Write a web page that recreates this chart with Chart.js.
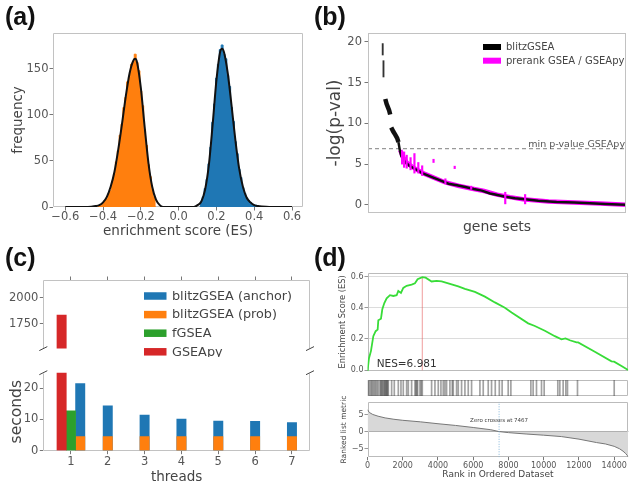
<!DOCTYPE html>
<html>
<head>
<meta charset="utf-8">
<script src="https://cdn.jsdelivr.net/npm/chart.js@4.4.1/dist/chart.umd.min.js"></script>
<style>
  body { margin: 0; background: #fff; }
  #wrap { position: relative; width: 633px; height: 490px; overflow: hidden; background: #fff; }
  canvas { position: absolute; }
  .lab { position: absolute; font: bold 25px 'Liberation Sans', Arial, sans-serif; color: #111; line-height: 25px; }
  .box { position: absolute; box-sizing: border-box; border: 1px solid #c2c2c2; pointer-events: none; z-index: 5; }
</style>
</head>
<body>
<div id="wrap">
  <canvas id="chartA" width="312" height="245" style="left:0;top:0"></canvas>
  <canvas id="chartB" width="313" height="240" style="left:320px;top:0"></canvas>
  <canvas id="chartCTop" width="318" height="117" style="left:0;top:240px"></canvas>
  <canvas id="chartCBot" width="318" height="133" style="left:0;top:357px"></canvas>
  <canvas id="chartDEs" width="313" height="115" style="left:320px;top:262px"></canvas>
  <canvas id="chartDHits" width="313" height="18" style="left:320px;top:379px"></canvas>
  <canvas id="chartDRank" width="313" height="94" style="left:320px;top:396px"></canvas>
  <div class="box" id="boxB"></div>
  <div class="lab" style="left:5px;top:4px">(a)</div>
  <div class="lab" style="left:314px;top:4px">(b)</div>
  <div class="lab" style="left:5px;top:245px">(c)</div>
  <div class="lab" style="left:314px;top:245px">(d)</div>
</div>
<script>
// ---------- (a) enrichment score distributions ----------
const esTicks   = [-0.6, -0.4, -0.2, 0, 0.2, 0.4, 0.6];
const freqTicks = [0, 50, 100, 150];
const negBinX   = [-0.43,-0.42,-0.41,-0.40,-0.39,-0.38,-0.37,-0.36,-0.35,-0.34,-0.33,-0.32,-0.31,-0.30,-0.29,-0.28,
                   -0.27,-0.26,-0.25,-0.24,-0.23,-0.22,-0.21,-0.20,-0.19,-0.18,-0.17,-0.16,-0.15,-0.14,-0.13,-0.12];
const negCounts = [0,1,2,4,7,9,14,18,28,36,49,61,78,90,108,119,136,142,155,158,166,157,148,126,110,84,67,46,33,19,11,0];
const posBinX   = [0.11,0.12,0.13,0.14,0.15,0.16,0.17,0.18,0.19,0.20,0.21,0.22,0.23,0.24,0.25,0.26,0.27,
                   0.28,0.29,0.30,0.31,0.32,0.33,0.34,0.35,0.36,0.37,0.38,0.39,0.40,0.41,0.42,0.43];
const posCounts = [0,5,11,20,30,47,65,92,112,140,155,171,176,166,161,143,131,108,93,71,58,41,32,21,15,10,7,5,3,2,2,1,0];
const kdeX = [-0.60,-0.48,-0.44,-0.42,-0.40,-0.38,-0.36,-0.34,-0.32,-0.30,-0.28,-0.26,-0.24,-0.23,-0.22,-0.20,-0.18,
              -0.16,-0.14,-0.12,-0.10,-0.08,0.08,0.10,0.12,0.14,0.16,0.18,0.20,0.22,0.23,0.24,0.26,0.28,0.30,0.32,
              0.34,0.36,0.38,0.40,0.42,0.44,0.48,0.60];
const kdeY = [0,0,1,2,5,11,22,38,62,90,120,145,159,161,157,129,87,48,22,8,2,0,0,2,6,19,46,90,138,169,172,168,145,110,
              73,42,22,10,5,2,1,0.5,0,0];

// ---------- (b) p-values per gene set ----------
const pTicks       = [0, 5, 10, 15, 20];
const minPvalue    = 6.9;
const dashX        = [5.7, 6.0];
const dashLow      = [18.4, 15.7];
const dashHigh     = [19.8, 17.7];
const clusterX     = [6.7, 7.2, 7.7, 8.2, 8.6, 8.8, 9.0, 9.8, 10.6, 11.3, 11.8];
const clusterY     = [13.0, 12.4, 12.0, 11.6, 11.1, null, 9.5, 9.0, 8.6, 8.2, 7.7];
const blitzX       = [11.8, 12.4, 12.9, 14.4, 16, 18.3, 21, 24.8, 28, 31.2, 34.5, 37.7, 41, 44.1, 47.3, 49.3, 53.2,
                      57, 60.9, 66, 73.1, 80, 86, 92, 97, 100];
const blitzY       = [7.7, 6.6, 6.0, 5.25, 4.8, 4.4, 3.9, 3.4, 3.0, 2.6, 2.4, 2.2, 1.95, 1.75, 1.4, 1.27, 1.0,
                      0.82, 0.68, 0.5, 0.35, 0.28, 0.2, 0.12, 0.05, 0];
const prerankX     = [12.5, 13.5, 15, 17, 19, 22, 25, 30, 35, 40, 45, 50, 55, 60, 70, 80, 90, 100];
const prerankY     = [6.7, 5.9, 5.2, 4.7, 4.3, 3.8, 3.4, 2.75, 2.35, 2.0, 1.7, 1.25, 0.95, 0.7, 0.4, 0.28, 0.17, 0.02];
const spikeX       = [13.2, 14.0, 15.0, 16.5, 18.0, 19.5, 21.0, 25.4, 30.0, 33.6, 40.0, 53.2, 60.9];
const spikeLow     = [5.0, 4.6, 4.5, 4.3, 3.9, 3.9, 3.6, 5.2, 2.6, 4.45, 1.9, 0.12, 0.12];
const spikeHigh    = [6.6, 6.5, 6.1, 5.8, 6.3, 5.2, 4.8, 5.6, 3.2, 4.75, 2.3, 1.55, 1.27];

// ---------- (c) runtime per thread ----------
const threads      = [1, 2, 3, 4, 5, 6, 7];
const anchorSec    = [21.5, 14.4, 11.4, 10.1, 9.5, 9.4, 9.0];
const probSec      = [4.5, 4.5, 4.5, 4.5, 4.5, 4.5, 4.5];
const fgseaSec     = [12.8, null, null, null, null, null, null];
const gseapySec    = [1834, null, null, null, null, null, null];
const secTicksHigh = [1750, 2000];
const secTicksLow  = [0, 10, 20];
const legendC      = ['blitzGSEA (anchor)', 'blitzGSEA (prob)', 'fGSEA', 'GSEApy'];

// ---------- (d) running enrichment score ----------
const rankTicks  = [0, 2000, 4000, 6000, 8000, 10000, 12000, 14000];
const esYTicks   = [0, 0.2, 0.4, 0.6];
const metricTicks = [-5, 0, 5];
const esRank  = [0, 10, 85, 198, 330, 463, 576, 614, 765, 840, 955, 1087, 1276, 1465, 1654, 1748, 1899, 2031, 2220,
                 2504, 2693, 2844, 3109, 3299, 3638, 3921, 4205, 4583, 5150, 5528, 6095, 6663, 7229, 7796, 8176, 9118,
                 9497, 10064, 10631, 11009, 11236, 11482, 11860, 11955, 12900, 13846, 13994, 14413, 14787];
const esScore = [0, 0.006, 0.077, 0.124, 0.218, 0.25, 0.26, 0.32, 0.33, 0.39, 0.43, 0.46, 0.48, 0.475, 0.48, 0.507,
                 0.495, 0.527, 0.54, 0.548, 0.556, 0.582, 0.596, 0.592, 0.568, 0.572, 0.568, 0.556, 0.536, 0.521,
                 0.501, 0.471, 0.434, 0.40, 0.37, 0.30, 0.283, 0.253, 0.218, 0.198, 0.204, 0.192, 0.178, 0.178,
                 0.118, 0.057, 0.055, 0.027, 0.002];
const esPeakRank = 3109;
const esPeak     = 0.596;
const nes        = 6.981;
const hitRanks = [47, 120, 198, 260, 330, 400, 463, 540, 614, 709, 760, 803, 850, 898, 955, 990, 1031, 1070, 1106,
                  1140, 1181, 1370, 1521, 1748, 1899, 2031, 2220, 2315, 2504, 2693, 2744, 2800, 2844, 2977, 3050,
                  3109, 3638, 3827, 4016, 4167, 4299, 4394, 4488, 4677, 4810, 4866, 5055, 5150, 5339, 5528, 5717,
                  5906, 6379, 6568, 6851, 7040, 7250, 7480, 7640, 7985, 8136, 9270, 9400, 9590, 9875, 10026, 10800,
                  10914, 11103, 11255, 11349, 11916, 14000];
const metricRank = [0, 100, 300, 600, 1000, 1500, 2000, 3000, 4000, 5000, 6000, 7000, 7467, 8000, 9000, 10000,
                    11000, 12000, 13000, 13500, 14000, 14300, 14500, 14650, 14750, 14790];
const metricVal  = [6.4, 5.6, 5.0, 4.5, 4.0, 3.6, 3.3, 2.85, 2.3, 1.8, 1.2, 0.55, 0, -0.3, -0.7, -1.05, -1.45,
                    -2.2, -3.2, -3.6, -4.3, -5.0, -5.7, -6.4, -7.0, -7.4];
const zeroCross  = 7467;

// ---------- helpers ----------
Chart.defaults.font.family = "'DejaVu Sans', sans-serif";
Chart.defaults.color = '#555';
Chart.defaults.animation = false;

const fixedTicks = vals => scale => { scale.ticks = vals.map(v => ({ value: v })); };
const fixW  = w => scale => { scale.width = w; };
const fixH  = h => scale => { scale.height = h; };
const minus = s => String(s).replace('-', '\u2212');
const plain = v => minus(String(v));
const pts   = (xs, ys) => xs.map((x, i) => ({ x, y: ys[i] }));
const noPlugins = { legend: { display: false }, tooltip: { enabled: false } };

// light grey box round the plot area (matplotlib style spines), drawn before the marks
const framePlugin = {
  id: 'frame',
  beforeDatasetsDraw(chart, args, o) {
    const ctx = chart.ctx;
    const xs = chart.scales.x, ys = chart.scales.y;
    const sides = o.sides || 'tlrb';
    const l = Math.round(xs.left) + 0.5, r = Math.round(xs.right) - 0.5;
    const t = Math.round(ys.top) + 0.5, b = Math.round(ys.bottom) - 0.5;
    ctx.save();
    ctx.setLineDash([]);
    ctx.strokeStyle = o.color || '#c2c2c2';
    ctx.lineWidth = 1;
    ctx.beginPath();
    if (sides.includes('t')) { ctx.moveTo(l, t); ctx.lineTo(r, t); }
    if (sides.includes('b')) { ctx.moveTo(l, b); ctx.lineTo(r, b); }
    if (sides.includes('l')) { ctx.moveTo(l, t); ctx.lineTo(l, b); }
    if (sides.includes('r')) { ctx.moveTo(r, t); ctx.lineTo(r, b); }
    ctx.stroke();
    // diagonal marks of a broken axis
    if (o.breakAt) {
      const y = o.breakAt === 'top' ? ys.top : ys.bottom;
      ctx.strokeStyle = '#444';
      ctx.beginPath();
      [xs.left, xs.right].forEach(x => { ctx.moveTo(x - 4, y + 2); ctx.lineTo(x + 4, y - 2); });
      ctx.stroke();
    }
    ctx.restore();
  }
};

// panel b: the box is placed as an overlay on the chart area once the chart is laid out
const overlayBox = {
  id: 'overlayBox',
  afterDraw(chart, args, o) {
    if (!o.el) return;
    const el = document.getElementById(o.el);
    const a = chart.chartArea;
    const c = chart.canvas;
    el.style.left = (c.offsetLeft + Math.round(a.left)) + 'px';
    el.style.top = (c.offsetTop + Math.round(a.top)) + 'px';
    el.style.width = Math.round(a.right - a.left) + 'px';
    el.style.height = Math.round(a.bottom - a.top) + 'px';
  }
};

// legend drawn inside the plot, boxes + labels
const boxLegend = {
  id: 'boxLegend',
  afterDraw(chart, args, o) {
    if (!o.labels) return;
    const ctx = chart.ctx;
    ctx.save();
    ctx.font = o.font;
    ctx.textBaseline = 'middle';
    ctx.textAlign = 'left';
    o.labels.forEach((lab, i) => {
      const ds = chart.data.datasets.find(d => d.label === lab);
      const y = o.y + i * o.rowH;
      ctx.fillStyle = ds.legendColor || ds.backgroundColor || ds.borderColor;
      ctx.fillRect(o.x, y - o.boxH / 2, o.boxW, o.boxH);
      ctx.fillStyle = '#444';
      ctx.fillText(lab, o.x + o.boxW + o.gap, y + 0.5);
    });
    ctx.restore();
  }
};

// text notes anchored at data coordinates
const notesPlugin = {
  id: 'notes',
  afterDatasetsDraw(chart, args, o) {
    if (!o.items) return;
    const ctx = chart.ctx;
    ctx.save();
    o.items.forEach(n => {
      const x = chart.scales.x.getPixelForValue(n.x) + (n.dx || 0);
      const y = chart.scales.y.getPixelForValue(n.y) + (n.dy || 0);
      ctx.font = n.font;
      ctx.fillStyle = n.color || '#444';
      ctx.textAlign = n.align || 'left';
      ctx.textBaseline = n.baseline || 'middle';
      ctx.fillText(n.text, x, y);
    });
    ctx.restore();
  }
};

const tickGrid = len => ({ drawOnChartArea: false, tickLength: len, color: '#777', tickColor: '#777',
                           lineWidth: 1, tickWidth: 1, offset: false });

// ---------- (a) ----------
new Chart(document.getElementById('chartA'), {
  type: 'line',
  data: {
    datasets: [
      { label: 'fit', data: pts(kdeX, kdeY), borderColor: '#111', borderWidth: 2, pointRadius: 0,
        cubicInterpolationMode: 'monotone', order: 0 },
      { label: 'negative', data: pts(negBinX, negCounts), fill: 'origin', backgroundColor: '#ff7f0e',
        borderColor: '#ff7f0e', borderWidth: 1, pointRadius: 0, stepped: 'middle', order: 1 },
      { label: 'positive', data: pts(posBinX, posCounts), fill: 'origin', backgroundColor: '#1f77b4',
        borderColor: '#1f77b4', borderWidth: 1, pointRadius: 0, stepped: 'middle', order: 1 }
    ]
  },
  options: {
    responsive: false,
    events: [],
    layout: { padding: { top: 33, right: 9 } },
    plugins: { ...noPlugins, frame: {} },
    scales: {
      x: { type: 'linear', min: -0.665, max: 0.658, afterBuildTicks: fixedTicks(esTicks), afterFit: fixH(38),
           grid: tickGrid(3.5), border: { display: false },
           ticks: { font: { size: 11.5 }, padding: 0, maxRotation: 0, autoSkip: false, callback: v => minus(v.toFixed(1)) },
           title: { display: true, text: 'enrichment score (ES)', color: '#444', font: { size: 13.5 }, padding: { top: 0, bottom: 5 } } },
      y: { min: 0, max: 189, afterBuildTicks: fixedTicks(freqTicks), afterFit: fixW(53),
           grid: tickGrid(3.5), border: { display: false },
           ticks: { font: { size: 11.5 }, padding: 1, callback: plain },
           title: { display: true, text: 'frequency', color: '#444', font: { size: 13.5 }, padding: { top: 10, bottom: 0 } } }
    }
  },
  plugins: [framePlugin]
});

// ---------- (b) ----------
new Chart(document.getElementById('chartB'), {
  type: 'line',
  data: {
    datasets: [
      { type: 'bar', label: 'dash', data: dashX.map((x, i) => ({ x, y: [dashLow[i], dashHigh[i]] })),
        backgroundColor: '#333', barThickness: 1.2, grouped: false, order: 0 },
      { type: 'bar', label: 'spikes', data: spikeX.map((x, i) => ({ x, y: [spikeLow[i], spikeHigh[i]] })),
        backgroundColor: '#ff00ff', barThickness: 1.5, grouped: false, order: 0 },
      { label: 'clusters', data: pts(clusterX, clusterY), borderColor: '#111', borderWidth: 4.5, pointRadius: 0, order: 1 },
      { label: 'blitzGSEA', data: pts(blitzX, blitzY), borderColor: '#111', legendColor: '#000', borderWidth: 2.5,
        pointRadius: 0, order: 1 },
      { label: 'prerank GSEA / GSEApy', data: pts(prerankX, prerankY), borderColor: '#ff00ff', legendColor: '#ff00ff',
        borderWidth: 4.5, pointRadius: 0, order: 2 },
      { label: 'min p', data: [{ x: 0, y: minPvalue }, { x: 100, y: minPvalue }], borderColor: '#999',
        borderWidth: 1.2, borderDash: [4, 3], pointRadius: 0, order: 3 }
    ]
  },
  options: {
    responsive: false,
    events: [],
    layout: { padding: { top: 33, right: 7 } },
    plugins: {
      ...noPlugins,
      frame: { color: '#c2c2c2' },
      overlayBox: { el: 'boxB' },
      boxLegend: { labels: ['blitzGSEA', 'prerank GSEA / GSEApy'], x: 163, y: 47, rowH: 13.7, boxW: 18, boxH: 6,
                   gap: 5, font: "10px 'DejaVu Sans'" },
      notes: { items: [{ x: 100, y: minPvalue, text: 'min p-value GSEApy', align: 'right', baseline: 'alphabetic',
                         dx: -1, dy: -1.5, font: "9.5px 'DejaVu Sans'", color: '#555' }] }
    },
    scales: {
      x: { type: 'linear', min: 0, max: 100, offset: false, afterFit: fixH(27), grid: { display: false, offset: false },
           border: { display: false }, ticks: { display: false },
           title: { display: true, text: 'gene sets', color: '#444', font: { size: 14 }, padding: { top: 0, bottom: 4.5 } } },
      y: { min: -1, max: 21.1, afterBuildTicks: fixedTicks(pTicks), afterFit: fixW(48),
           grid: tickGrid(3.5), border: { display: false },
           ticks: { font: { size: 11.5 }, padding: 2.5, callback: plain },
           title: { display: true, text: '-log(p-val)', color: '#444', font: { size: 17 }, padding: { top: 5, bottom: 0 } } }
    }
  },
  plugins: [framePlugin, overlayBox, boxLegend, notesPlugin]
});

// ---------- (c) ----------
function runtimeData() {
  return {
    labels: threads,
    datasets: [
      { label: 'GSEApy', data: gseapySec, backgroundColor: '#d62728', stack: 'r' },
      { label: 'fGSEA', data: fgseaSec, backgroundColor: '#2ca02c', stack: 'g' },
      { label: 'blitzGSEA (prob)', data: probSec, backgroundColor: '#ff7f0e', stack: 'b' },
      { label: 'blitzGSEA (anchor)', data: anchorSec, backgroundColor: '#1f77b4', stack: 'b' }
    ]
  };
}

new Chart(document.getElementById('chartCTop'), {
  type: 'bar',
  data: runtimeData(),
  options: {
    responsive: false,
    events: [],
    datasets: { bar: { barThickness: 9.3, skipNull: true } },
    layout: { padding: { top: 36, right: 8 } },
    plugins: {
      ...noPlugins,
      frame: { sides: 'tlr', breakAt: 'bottom' },
      boxLegend: { labels: legendC, x: 144, y: 56, rowH: 18.6, boxW: 22.5, boxH: 7.5, gap: 5.5,
                   font: "12.8px 'DejaVu Sans'" }
    },
    scales: {
      x: { type: 'linear', position: 'top', stacked: true, offset: false, min: 0.25, max: 7.49,
           afterBuildTicks: fixedTicks(threads), afterFit: fixH(4),
           grid: tickGrid(3.5), border: { display: false }, ticks: { display: false } },
      y: { stacked: false, min: 1511, max: 2172, afterBuildTicks: fixedTicks(secTicksHigh), afterFit: fixW(43.3),
           grid: tickGrid(3.5), border: { display: false }, ticks: { font: { size: 11.5 }, padding: 1.5, callback: plain } }
    }
  },
  plugins: [framePlugin, boxLegend]
});

new Chart(document.getElementById('chartCBot'), {
  type: 'bar',
  data: runtimeData(),
  options: {
    responsive: false,
    events: [],
    datasets: { bar: { barThickness: 9.3, skipNull: true } },
    layout: { padding: { top: 15.7, right: 8 } },
    plugins: { ...noPlugins, frame: { sides: 'lrb', breakAt: 'top' } },
    scales: {
      x: { type: 'linear', stacked: true, offset: false, min: 0.25, max: 7.49,
           afterBuildTicks: fixedTicks(threads), afterFit: fixH(39.3),
           grid: tickGrid(3.5), border: { display: false },
           ticks: { font: { size: 11.5 }, padding: 1, maxRotation: 0, autoSkip: false, callback: plain },
           title: { display: true, text: 'threads', color: '#444', font: { size: 13.5 }, padding: { top: 0, bottom: 4 } } },
      y: { stacked: false, min: 0, max: 25, afterBuildTicks: fixedTicks(secTicksLow), afterFit: fixW(43.3),
           grid: tickGrid(3.5), border: { display: false }, ticks: { font: { size: 11.5 }, padding: 1.5, callback: plain },
           title: { display: true, text: 'seconds', color: '#444', font: { size: 15.5 }, padding: { top: 7.5, bottom: 0 } } }
    }
  },
  plugins: [framePlugin]
});

// ---------- (d) ----------
const rankMax = 14800;

new Chart(document.getElementById('chartDEs'), {
  type: 'line',
  data: {
    datasets: [
      { label: 'ES', data: pts(esRank, esScore), borderColor: '#38dc38', borderWidth: 1.8, pointRadius: 0, order: 0 },
      { label: 'peak', data: [{ x: esPeakRank, y: 0 }, { x: esPeakRank, y: esPeak }], borderColor: 'rgba(230,90,90,0.75)',
        borderWidth: 0.8, pointRadius: 0, order: 1 }
    ]
  },
  options: {
    responsive: false,
    events: [],
    layout: { padding: { top: 10.7, right: 4.7 } },
    plugins: {
      ...noPlugins,
      frame: { color: '#bbb' },
      notes: { items: [{ x: 520, y: 0.036, text: 'NES=' + nes.toFixed(3), font: "10.5px 'DejaVu Sans'", color: '#333' }] }
    },
    scales: {
      x: { type: 'linear', display: false, min: 0, max: rankMax },
      y: { min: -0.006, max: 0.624, afterBuildTicks: fixedTicks(esYTicks), afterFit: fixW(47.5),
           grid: { color: '#dcdcdc', tickColor: '#999', tickLength: 3 }, border: { display: false },
           ticks: { font: { size: 8 }, padding: 1, callback: v => v.toFixed(1) },
           title: { display: true, text: 'Enrichment Score (ES)', color: '#444', font: { size: 8.3 }, padding: { top: 18, bottom: 0 } } }
    }
  },
  plugins: [framePlugin, notesPlugin]
});

new Chart(document.getElementById('chartDHits'), {
  type: 'bar',
  data: {
    datasets: [{ label: 'hits', data: hitRanks.map(r => ({ x: r, y: 1 })), backgroundColor: 'rgba(70,70,70,0.5)',
                 barThickness: 1, grouped: false }]
  },
  options: {
    responsive: false,
    events: [],
    layout: { padding: { left: 47.5, right: 4.7, top: 1, bottom: 1 } },
    plugins: { ...noPlugins, frame: { color: '#bbb' } },
    scales: {
      x: { type: 'linear', display: false, offset: false, min: 0, max: rankMax },
      y: { display: false, min: 0, max: 1 }
    }
  },
  plugins: [framePlugin]
});

new Chart(document.getElementById('chartDRank'), {
  type: 'line',
  data: {
    datasets: [
      { label: 'metric', data: pts(metricRank, metricVal), fill: 'origin', backgroundColor: '#d8d8d8',
        borderColor: '#777', borderWidth: 1, pointRadius: 0, order: 1 },
      { label: 'zero', data: [{ x: zeroCross, y: -7.5 }, { x: zeroCross, y: 8.7 }], borderColor: '#86b6d8',
        borderWidth: 1, borderDash: [1, 1.5], pointRadius: 0, order: 0 }
    ]
  },
  options: {
    responsive: false,
    events: [],
    layout: { padding: { top: 0.7, right: 4.7 } },
    plugins: {
      ...noPlugins,
      frame: { color: '#bbb' },
      notes: { items: [{ x: zeroCross, y: 3.3, text: 'Zero crosses at ' + zeroCross, align: 'center',
                         font: "5.5px 'DejaVu Sans'", color: '#444' }] }
    },
    scales: {
      x: { type: 'linear', min: 0, max: rankMax, afterBuildTicks: fixedTicks(rankTicks), afterFit: fixH(32.7),
           grid: tickGrid(3), border: { display: false },
           ticks: { font: { size: 8 }, padding: 0.5, maxRotation: 0, autoSkip: false, callback: plain },
           title: { display: true, text: 'Rank in Ordered Dataset', color: '#444', font: { size: 9 }, padding: { top: 0, bottom: 10 } } },
      y: { min: -7.5, max: 8.7, afterBuildTicks: fixedTicks(metricTicks), afterFit: fixW(47.5),
           grid: { color: c => c.tick && c.tick.value === 0 ? '#888' : 'rgba(0,0,0,0)', tickColor: '#999', tickLength: 3 },
           border: { display: false },
           ticks: { font: { size: 8 }, padding: 1, callback: plain },
           title: { display: true, text: 'Ranked list metric', color: '#444', font: { size: 7.5 }, padding: { top: 20, bottom: 0 } } }
    }
  },
  plugins: [framePlugin, notesPlugin]
});
</script>
</body>
</html>
